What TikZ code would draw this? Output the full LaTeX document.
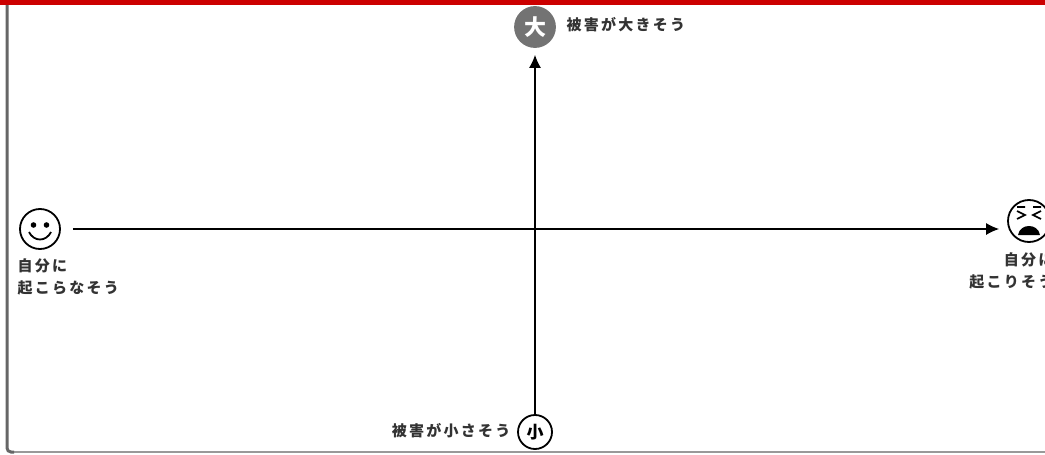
\documentclass[tikz,border=0pt]{standalone}
\usepackage{fontspec}
\newfontfamily\jp{Noto Sans CJK JP}[LetterSpace=15]
\usetikzlibrary{arrows.meta}
\begin{document}
\begin{tikzpicture}[x=1pt,y=-1pt,line width=1.2pt,
  every node/.style={font=\jp\bfseries\fontsize{15}{22}\selectfont,text=black!80},
  face/.style={circle,draw,line width=1.8pt,minimum size=40pt,inner sep=0pt}]
\useasboundingbox (0,0) rectangle (1045,455);
\fill[red!80!black] (0,0) rectangle (1045,5);
\draw[black!40,line width=2pt] (12,452) -- (1045,452);
\draw[black!60,line width=3pt,rounded corners=4pt] (7,5) -- (7,452) -- (14,452);
% faces
\node[face] (happy) at (40,229) {};
\node[face,minimum size=42pt] (sad) at (1029,221) {};
\node[face,fill=black!55,draw=black!55,text=white,
  font=\jp\bfseries\fontsize{22}{22}\selectfont] (big) at (535,27) {大};
\node[face,minimum size=34pt,text=black,font=\jp\bfseries\fontsize{17}{17}\selectfont] (small) at (535,432) {小};
\begin{scope}[shift={(happy.center)}]
  \fill (-6.5,-4) circle (2.8) (6.5,-4) circle (2.8);
  \draw[line width=1.8pt] (-11,3) .. controls (-6,13) and (6,13) .. (11,3);
\end{scope}
\begin{scope}[shift={(sad.center)},line width=1.6pt]
  \foreach \s in {-1,1}
    \draw (12*\s,-14) -- (4*\s,-14) (12*\s,-10) -- (4*\s,-6) -- (12*\s,-2);
  \fill (-11,14) .. controls (-9,2) and (9,2) .. (11,14) -- cycle;
\end{scope}
% axes
\draw[-{Latex[length=13pt,width=12pt]},shorten <=12pt,shorten >=8pt] (happy.east) -- (happy.east -| sad.west);
\draw[-{Latex[length=13pt,width=12pt]},shorten >=7pt] (small) -- (big);
% labels
\node[anchor=west,inner sep=0pt] (bigl) at (566,25) {被害が大きそう};
\node[anchor=east,inner sep=0pt] (smalll) at (511,431) {被害が小さそう};
\node[anchor=north west,align=left,inner sep=0pt] (happyl) at (17,258) {自分に\\起こらなそう};
\node[anchor=north east,align=right,inner sep=0pt] (sadl) at (1054,252) {自分に\\起こりそう};
\end{tikzpicture}
\end{document}
